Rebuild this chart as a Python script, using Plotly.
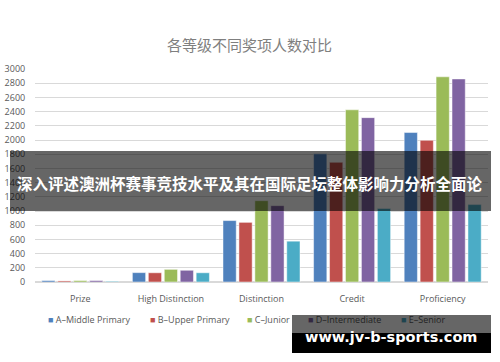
import plotly.graph_objects as go

categories = ["Prize", "High Distinction", "Distinction", "Credit", "Proficiency"]
series_names = ["A–Middle Primary", "B–Upper Primary", "C–Junior", "D–Intermediate", "E–Senior"]
series_colors = ["#4F81BD", "#C0504D", "#9BBB59", "#8064A2", "#4BACC6"]
vals_a = [20, 132, 865, 1805, 2105]
vals_b = [15, 130, 840, 1685, 1995]
vals_c = [20, 178, 1145, 2425, 2890]
vals_d = [20, 165, 1075, 2315, 2860]
vals_e = [10, 130, 575, 1035, 1090]
series_values = [vals_a, vals_b, vals_c, vals_d, vals_e]
y_ticks = list(range(0, 3001, 200))

title_text = "各等级不同奖项人数对比"
banner_text = "深入评述澳洲杯赛事竞技水平及其在国际足坛整体影响力分析全面论"
watermark_text = "www.jv-b-sports.com"

W, H = 500, 362
L, R, T, B = 35, 12, 69, 80
pw, ph = W - L - R, H - T - B

def px(x):
    return (x - L) / pw

def py(y):
    return (H - B - y) / ph

fig = go.Figure()
for name, color, vals in zip(series_names, series_colors, series_values):
    fig.add_trace(go.Bar(
        x=categories, y=vals, name=name,
        marker=dict(color=color, line=dict(color="rgba(255,255,255,0.6)", width=0.8)),
        showlegend=False,
    ))

tick_font = dict(family="Open Sans, sans-serif", size=9, color="#595959")

fig.update_layout(
    width=W, height=H,
    margin=dict(l=L, r=R, t=T, b=B, autoexpand=False),
    paper_bgcolor="white", plot_bgcolor="white",
    barmode="group", bargap=0.12, bargroupgap=0.17,
    xaxis=dict(showgrid=False, showline=True, linecolor="#D9D9D9", linewidth=1,
               tickfont=tick_font, ticks="outside", ticklen=8, tickcolor="rgba(0,0,0,0)",
               automargin=False, fixedrange=True),
    yaxis=dict(range=[0, 3000], tickvals=y_ticks, showgrid=True, gridcolor="#D9D9D9",
               gridwidth=1, zeroline=True, zerolinecolor="#D9D9D9", showline=False,
               tickfont=tick_font, ticks="outside", ticklen=7, tickcolor="rgba(0,0,0,0)",
               automargin=False),
    showlegend=False,
)

# title
fig.add_annotation(text=title_text, xref="paper", yref="paper", x=px(249), y=py(44),
                   xanchor="center", yanchor="middle", showarrow=False,
                   font=dict(family="Noto Sans CJK SC", size=15, color="#7F7F7F"))

# legend entries as text
legend_x = [47, 149, 246, 307, 400]
dark = [False, False, False, True, True]
def darken(hexc, f=0.4):
    r, g, b = int(hexc[1:3], 16), int(hexc[3:5], 16), int(hexc[5:7], 16)
    return "rgb(%d,%d,%d)" % (r * f, g * f, b * f)
for name, color, lx, dk in zip(series_names, series_colors, legend_x, dark):
    sq = darken(color) if dk else color
    tc = darken("#595959") if dk else "#595959"
    fig.add_annotation(
        text="<span style='color:%s'>■</span> <span style='color:%s'>%s</span>" % (sq, tc, name),
        xref="paper", yref="paper", x=px(lx - 1), y=py(319), xanchor="left", yanchor="middle",
        showarrow=False, font=dict(family="Open Sans, sans-serif", size=9, color=tc))

# banner overlay
fig.add_shape(type="rect", xref="paper", yref="paper", x0=px(10), x1=px(491), y0=py(211), y1=py(151),
              fillcolor="rgba(0,0,0,0.6)", line=dict(width=0), layer="above")
fig.add_annotation(text="<b>%s</b>" % banner_text, xref="paper", yref="paper", x=px(250), y=py(183),
                   xanchor="center", yanchor="middle", showarrow=False,
                   font=dict(family="Noto Sans CJK SC", size=15.5, color="white"))

# watermark
fig.add_shape(type="rect", xref="paper", yref="paper", x0=px(292), x1=px(491), y0=py(333), y1=py(315),
              fillcolor="rgba(0,0,0,0.6)", line=dict(width=0), layer="above")
fig.add_shape(type="rect", xref="paper", yref="paper", x0=px(292), x1=px(491), y0=py(353), y1=py(333),
              fillcolor="black", line=dict(width=0), layer="above")
fig.add_annotation(text="<b>%s</b>" % watermark_text, xref="paper", yref="paper", x=px(391), y=py(337),
                   xanchor="center", yanchor="middle", showarrow=False,
                   font=dict(family="DejaVu Sans, sans-serif", size=14.5, color="white"))

fig.write_html("out.html", config={"displayModeBar": False, "staticPlot": True},
               post_script="document.body.style.margin='0';document.body.style.overflow='hidden';")
